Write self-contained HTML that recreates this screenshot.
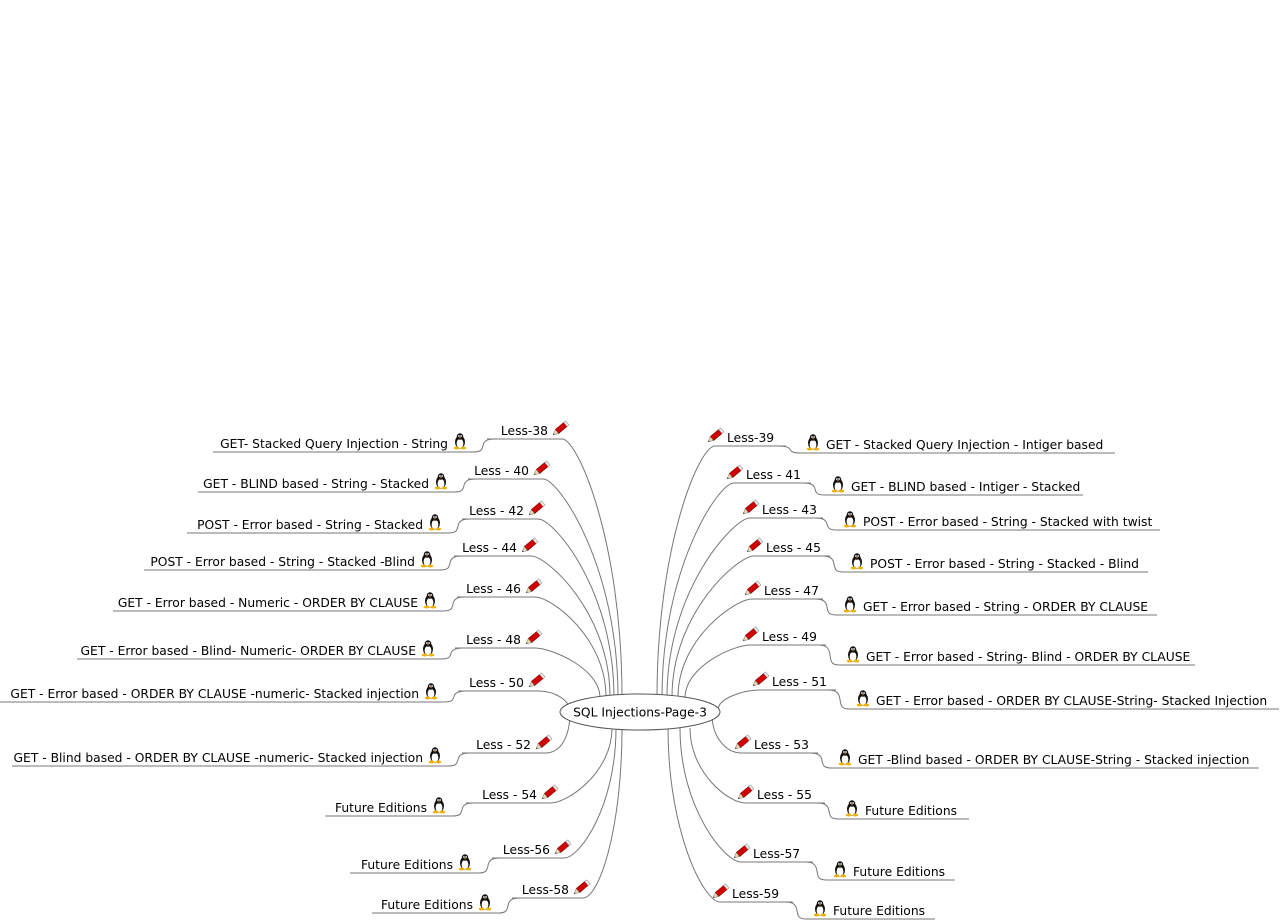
<!DOCTYPE html>
<html><head><meta charset="utf-8">
<style>
html,body{margin:0;padding:0;background:#fff;width:1280px;height:920px;overflow:hidden}
svg text{font-family:"DejaVu Sans","Liberation Sans",sans-serif;font-size:12.3px;fill:#000}
</style></head>
<body>
<svg id="map" width="1280" height="920" viewBox="0 0 1280 920" xmlns="http://www.w3.org/2000/svg">
<defs>
<g id="pencil">
 <g transform="rotate(-40)">
  <rect x="-4" y="-2.6" width="11" height="5.2" fill="#d40000" stroke="#6a0000" stroke-width="0.6"/>
  <rect x="7" y="-2.6" width="2.5" height="5.2" fill="#eee" stroke="#888" stroke-width="0.5"/>
  <path d="M-4,-2.6 L-9,0 L-4,2.6 Z" fill="#f0d8b0" stroke="#777" stroke-width="0.5"/>
  <path d="M-7.5,-0.8 L-9,0 L-7.5,0.8 Z" fill="#333"/>
 </g>
</g>
<g id="penguin">
 <ellipse cx="0" cy="1" rx="5" ry="6.5" fill="#111"/>
 <ellipse cx="0" cy="2.5" rx="3.4" ry="4.6" fill="#fff"/>
 <circle cx="0" cy="-4.5" r="3.2" fill="#111"/>
 <circle cx="-1.1" cy="-5" r="0.9" fill="#fff"/>
 <circle cx="1.1" cy="-5" r="0.9" fill="#fff"/>
 <path d="M-1.3,-3.6 L1.3,-3.6 L0,-2.6 Z" fill="#f0b000"/>
 <ellipse cx="-3.4" cy="7" rx="2.8" ry="1.5" fill="#f0b000"/>
 <ellipse cx="3.4" cy="7" rx="2.8" ry="1.5" fill="#f0b000"/>
</g>
</defs>
<g id="links"></g>
<g id="nodes"></g>
<g>
 <ellipse cx="640" cy="712" rx="80" ry="18" fill="#fff" stroke="#555" stroke-width="1"/>
 <text x="640" y="716.5" text-anchor="middle">SQL Injections-Page-3</text>
</g>
</svg>
<script>
const leftLessons = ["Less-38","Less - 40","Less - 42","Less - 44","Less - 46","Less - 48","Less - 50","Less - 52","Less - 54","Less-56","Less-58"];
const leftY = [439,479,519,556,597,648,691,753,803,858,898];
const leftX1 = [487,468,462,454,457,455,458,462,466,492,512];
const leftX2 = [574,555,550,543,547,547,550,557,563,576,595];
const leftChildren = ["GET- Stacked Query Injection - String","GET - BLIND based - String - Stacked","POST - Error based - String - Stacked","POST - Error based - String - Stacked -Blind","GET - Error based - Numeric - ORDER BY CLAUSE","GET - Error based - Blind- Numeric- ORDER BY CLAUSE","GET - Error based - ORDER BY CLAUSE -numeric- Stacked injection","GET - Blind based - ORDER BY CLAUSE -numeric- Stacked injection","Future Editions","Future Editions","Future Editions"];
const leftChildY = [452,492,533,570,611,659,702,766,816,873,913];
const leftChildX1 = [213,198,187,144,113,77,0,12,325,350,372];
const leftAnchorX = [622,618,614,610,606,600,570,570,612,616,622];
const leftAnchorY = [697,697,697,697,697,698,712,712,728,728,728];

const rightLessons = ["Less-39","Less - 41","Less - 43","Less - 45","Less - 47","Less - 49","Less - 51","Less - 53","Less - 55","Less-57","Less-59"];
const rightY = [446,483,518,556,599,645,690,753,803,862,902];
const rightX1 = [703,722,738,742,740,738,748,730,733,729,708];
const rightX2 = [786,811,823,830,823,826,836,818,825,813,793];
const rightChildren = ["GET -  Stacked Query Injection - Intiger based","GET - BLIND based - Intiger - Stacked","POST - Error based - String - Stacked with twist","POST - Error based - String - Stacked - Blind","GET - Error based - String - ORDER BY CLAUSE","GET - Error based - String- Blind - ORDER BY CLAUSE","GET - Error based - ORDER BY CLAUSE-String- Stacked Injection","GET -Blind based - ORDER BY CLAUSE-String - Stacked injection","Future Editions","Future Editions","Future Editions"];
const rightChildY = [453,495,530,572,615,665,709,768,819,880,919];
const rightChildX2 = [1115,1083,1160,1148,1157,1195,1279,1259,969,955,935];
const rightAnchorX = [657,662,667,672,678,685,718,712,690,680,668];
const rightAnchorY = [697,697,697,697,697,698,710,714,728,728,728];

const NS = "http://www.w3.org/2000/svg";
const links = document.getElementById('links');
const nodes = document.getElementById('nodes');
function path(d){
  const p = document.createElementNS(NS,'path');
  p.setAttribute('d',d);p.setAttribute('fill','none');p.setAttribute('stroke','#777');p.setAttribute('stroke-width','1');
  links.appendChild(p);
}
function txt(g,x,y,s,anchor){
  const t=document.createElementNS(NS,'text');
  t.setAttribute('x',x);t.setAttribute('y',y);
  if(anchor)t.setAttribute('text-anchor',anchor);
  t.textContent=s;g.appendChild(t);
}
function icon(g,id,x,y){
  const u=document.createElementNS(NS,'use');
  u.setAttribute('href','#'+id);u.setAttribute('transform','translate('+x+','+y+')');
  g.appendChild(u);
}
leftLessons.forEach((lab,i)=>{
  const y=leftY[i],x1=leftX1[i],x2=leftX2[i],cy=leftChildY[i],cx2=x1-4,cx1=leftChildX1[i];
  const ax=leftAnchorX[i],ay=leftAnchorY[i];
  path('M'+x1+','+y+' L'+(x2-12)+','+y+' C'+(x2+4)+','+y+' '+ax+','+(y+(ay-y)*0.4)+' '+ax+','+ay);
  path('M'+cx1+','+cy+' L'+(cx2-10)+','+cy+' C'+(cx2-2)+','+cy+' '+(x1-5)+','+(cy-2)+' '+(x1-4)+','+((cy+y)/2)+' C'+(x1-3)+','+(y+1)+' '+(x1+2)+','+y+' '+(x1+8)+','+y);
  const g=document.createElementNS(NS,'g');
  
  
  txt(g,x2-26,y-4,lab,'end');icon(g,'pencil',x2-14,y-10);
  nodes.appendChild(g);
  const c=document.createElementNS(NS,'g');
  
  
  txt(c,cx2-35,cy-4,leftChildren[i],'end');icon(c,'penguin',cx2-23,cy-11);
  nodes.appendChild(c);
});
rightLessons.forEach((lab,i)=>{
  const y=rightY[i],x1=rightX1[i],x2=rightX2[i],cy=rightChildY[i],cx1=x2+4,cx2=rightChildX2[i];
  const ax=rightAnchorX[i],ay=rightAnchorY[i];
  path('M'+x2+','+y+' L'+(x1+12)+','+y+' C'+(x1-4)+','+y+' '+ax+','+(y+(ay-y)*0.4)+' '+ax+','+ay);
  path('M'+cx2+','+cy+' L'+(cx1+10)+','+cy+' C'+(cx1+2)+','+cy+' '+(x2+5)+','+(cy-2)+' '+(x2+4)+','+((cy+y)/2)+' C'+(x2+3)+','+(y+1)+' '+(x2-2)+','+y+' '+(x2-8)+','+y);
  const g=document.createElementNS(NS,'g');
  
  
  icon(g,'pencil',x1+12,y-10);txt(g,x1+24,y-4,lab);
  nodes.appendChild(g);
  const c=document.createElementNS(NS,'g');
  
  
  icon(c,'penguin',cx1+23,cy-11);txt(c,cx1+36,cy-4,rightChildren[i]);
  nodes.appendChild(c);
});
</script>
</body></html>
